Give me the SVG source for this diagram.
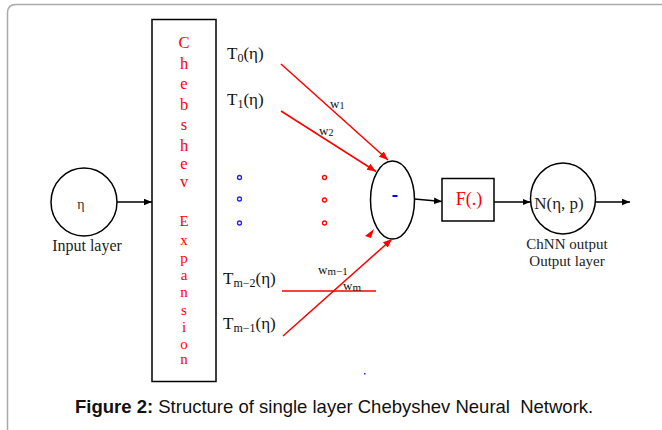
<svg xmlns="http://www.w3.org/2000/svg" width="662" height="430" viewBox="0 0 662 430">
<defs>
<marker id="ab" viewBox="0 0 10 10" refX="10" refY="5" markerWidth="8" markerHeight="8" markerUnits="userSpaceOnUse" orient="auto"><path d="M0,1 L10,5 L0,9 z" fill="#000"/></marker>
<marker id="ar" viewBox="0 0 10 10" refX="10" refY="5" markerWidth="9" markerHeight="9" markerUnits="userSpaceOnUse" orient="auto"><path d="M0,1 L10,5 L0,9 z" fill="#f00"/></marker>
</defs>
<style>
.s{font-family:"Liberation Serif","DejaVu Serif",serif;}
.lbl{font-family:"Liberation Serif","DejaVu Serif",serif;font-size:17px;fill:#111;}
.red{fill:#f00;}
.blk{fill:none;stroke:#000;stroke-width:1.5;}
.rl{stroke:#f00;stroke-width:1.5;fill:none;}
.bl{stroke:#000;stroke-width:1.5;fill:none;}
.w{font-family:"Liberation Serif","DejaVu Serif",serif;font-size:13px;fill:#111;}
.cap{font-family:"Liberation Sans",Arial,sans-serif;font-size:18.5px;fill:#111;}
</style>
<rect width="662" height="430" fill="#fff"/>
<path d="M7.5,430 V13 Q7.5,4.5 16,4.5 H662" fill="none" stroke="#aaa" stroke-width="1.5"/>

<g id="input">
<ellipse cx="84" cy="202" rx="33" ry="34" class="blk"/>
<text x="81" y="209" class="s" font-size="14" fill="#333" text-anchor="middle">η</text>
<text x="87" y="251" class="s" font-size="16" fill="#222" text-anchor="middle">Input layer</text>
</g>

<g id="expansion">
<rect x="152" y="19.5" width="64" height="362" class="blk"/>
<g class="s red" font-size="16.5" text-anchor="middle">
<text x="184" y="48">C</text>
<text x="184" y="69">h</text>
<text x="184" y="89">e</text>
<text x="184" y="110">b</text>
<text x="184" y="130">s</text>
<text x="184" y="151">h</text>
<text x="184" y="169">e</text>
<text x="184" y="187">v</text>
</g>
<g class="s red" font-size="15" text-anchor="middle">
<text x="184" y="226">E</text>
<text x="184" y="245">x</text>
<text x="184" y="263">p</text>
<text x="184" y="280">a</text>
<text x="184" y="297">n</text>
<text x="184" y="315">s</text>
<text x="184" y="332">i</text>
<text x="184" y="348.5">o</text>
<text x="184" y="364">n</text>
</g>
</g>

<g id="terms">
<text x="227" y="59" class="lbl">T<tspan font-size="12" dy="3">0</tspan><tspan dy="-3">(η)</tspan></text>
<text x="227" y="105" class="lbl">T<tspan font-size="12" dy="3">1</tspan><tspan dy="-3">(η)</tspan></text>
<text x="223" y="284" class="lbl">T<tspan font-size="12" dy="3">m−2</tspan><tspan dy="-3">(η)</tspan></text>
<text x="223" y="329" class="lbl">T<tspan font-size="12" dy="3">m−1</tspan><tspan dy="-3">(η)</tspan></text>
</g>

<g id="dots">
<g fill="none" stroke="#2222dd" stroke-width="1.3">
<circle cx="239.5" cy="177.5" r="2"/>
<circle cx="239.5" cy="199" r="2"/>
<circle cx="239.5" cy="223" r="2"/>
</g>
<g fill="none" stroke="#f00" stroke-width="1.3">
<circle cx="324.5" cy="177.5" r="2"/>
<circle cx="324.5" cy="200" r="2"/>
<circle cx="324.5" cy="223" r="2"/>
</g>
<rect x="364" y="373" width="1.5" height="1.5" fill="#22d"/>
</g>

<g id="sum">
<ellipse cx="392.5" cy="200" rx="22" ry="39" class="blk"/>
<rect x="392.5" y="195" width="5" height="2" fill="#00f"/>
</g>

<g id="activation">
<rect x="442" y="178.5" width="52" height="42.5" class="blk"/>
<text x="469" y="205" class="s red" font-size="18" text-anchor="middle">F(.)</text>
</g>

<g id="output">
<ellipse cx="563" cy="198.5" rx="32.5" ry="35.5" class="blk"/>
<text x="559" y="209" class="s" font-size="17" fill="#222" text-anchor="middle">N(η, p)</text>
<text x="567" y="249" class="s" font-size="15" fill="#222" text-anchor="middle">ChNN output</text>
<text x="567" y="266" class="s" font-size="15" fill="#222" text-anchor="middle">Output layer</text>
</g>

<g id="connectors">
<line x1="117" y1="202" x2="152" y2="202" class="bl" marker-end="url(#ab)"/>
<line x1="281" y1="64" x2="388" y2="160" class="rl" marker-end="url(#ar)"/>
<line x1="281" y1="111" x2="376" y2="171.5" class="rl" marker-end="url(#ar)"/>
<line x1="282" y1="291" x2="376" y2="291" class="rl"/>
<path d="M365,236 L374,229 L371,238 z" fill="#f00"/>
<line x1="283" y1="336" x2="392" y2="239" class="rl" marker-end="url(#ar)"/>
<line x1="414.5" y1="199" x2="442" y2="201.5" class="bl" marker-end="url(#ab)"/>
<line x1="494" y1="202" x2="530.5" y2="202" class="bl" marker-end="url(#ab)"/>
<line x1="595.5" y1="202" x2="630" y2="202" class="bl" marker-end="url(#ab)"/>
<text x="330" y="108" class="w">w<tspan font-size="10" dy="1">1</tspan></text>
<text x="319" y="135" class="w">w<tspan font-size="10" dy="1">2</tspan></text>
<text x="318" y="274" class="w">w<tspan font-size="11" dy="1">m−1</tspan></text>
<text x="343" y="290" class="w">w<tspan font-size="11" dy="1">m</tspan></text>
</g>

<text x="75" y="413" class="cap"><tspan font-weight="bold">Figure 2:</tspan> Structure of single layer Chebyshev Neural&#160; Network.</text>
</svg>
